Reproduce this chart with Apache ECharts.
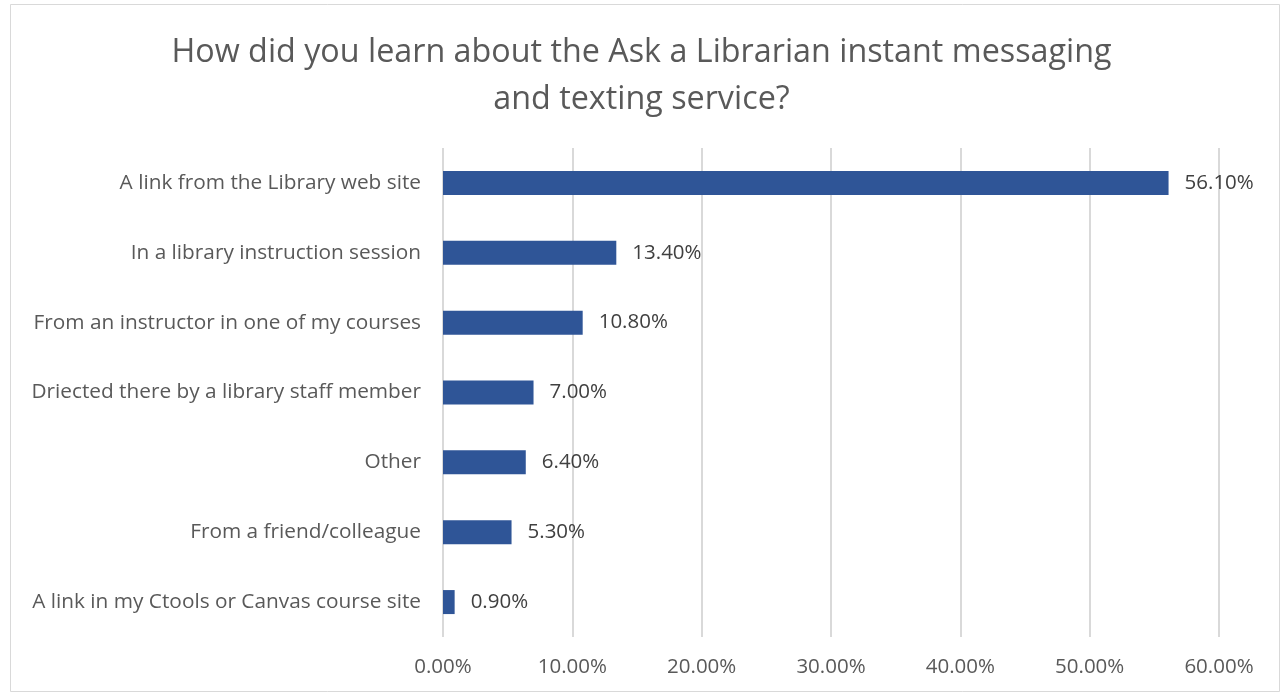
<!DOCTYPE html>
<html><head><meta charset="utf-8">
<script src="https://cdn.jsdelivr.net/npm/echarts@6/dist/echarts.min.js"></script>
<style>html,body{margin:0;padding:0;background:#fff}#c{width:1283px;height:695px}</style>
</head><body><div id="c"></div>
<script>
const titleText = "How did you learn about the Ask a Librarian instant messaging\nand texting service?";
const categories = [
  "A link from the Library web site",
  "In a library instruction session",
  "From an instructor in one of my courses",
  "Driected there by a library staff member",
  "Other",
  "From a friend/colleague",
  "A link in my Ctools or Canvas course site"
];
const values = [56.1, 13.4, 10.8, 7.0, 6.4, 5.3, 0.9];
const xTicks = [0, 10, 20, 30, 40, 50, 60];

const font = "Open Sans";
const chart = echarts.init(document.getElementById('c'), null, {renderer:'canvas'});
chart.setOption({
  animation:false,
  backgroundColor:'#fff',
  graphic:[{type:'rect', shape:{x:10.5,y:4.5,width:1269,height:687}, style:{fill:'none', stroke:'#d9d9d9', lineWidth:1}, silent:true}],
  title:{text:titleText, left:'center', top:24, textStyle:{fontFamily:font, fontSize:32.3, fontWeight:'normal', color:'#595959', lineHeight:47}},
  grid:{left:443, right:64, top:148, bottom:58, containLabel:false},
  xAxis:{type:'value', min:0, max:60, interval:10,
    axisLine:{show:false}, axisTick:{show:false},
    splitLine:{lineStyle:{color:'#d9d9d9', width:2}},
    axisLabel:{margin:20, fontFamily:font, fontSize:20.5, color:'#595959', formatter:v=>v.toFixed(2)+'%'}},
  yAxis:{type:'category', data:categories, inverse:true,
    axisLine:{show:false}, axisTick:{show:false},
    axisLabel:{margin:22, fontFamily:font, fontSize:20.8, color:'#595959'}},
  series:[{type:'bar', data:values, barWidth:24,
    itemStyle:{color:'#2f5597'},
    label:{show:true, position:'right', distance:16, fontFamily:font, fontSize:20.5, color:'#404040', formatter:p=>p.value.toFixed(2)+'%'}}]
});
</script></body></html>
